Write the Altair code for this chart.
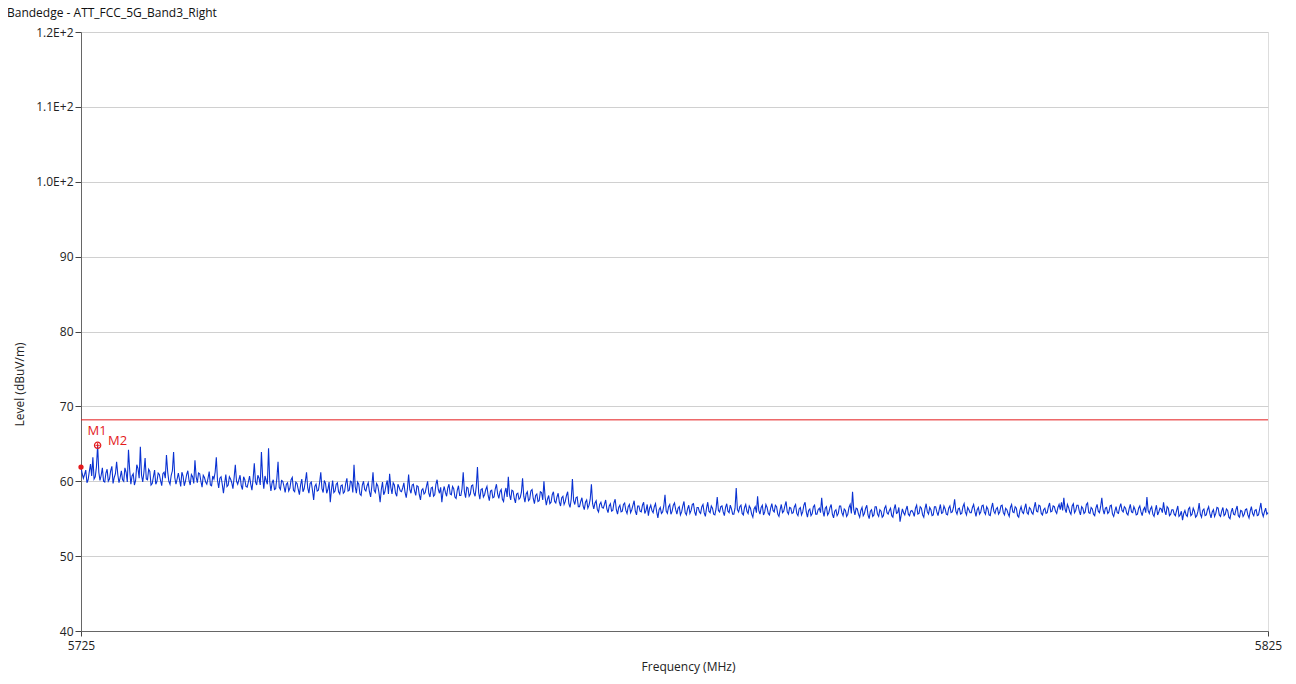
import altair as alt
import numpy as np
import pandas as pd

# ---- data -------------------------------------------------------------
title_text = "Bandedge - ATT_FCC_5G_Band3_Right"
freq_start, freq_stop = 5725, 5825
x_tick_values = [5725, 5825]
y_tick_values = [40, 50, 60, 70, 80, 90, 100, 110, 120]
limit_level = [68.2]

marker_names = ["M1", "M2"]
marker_freqs = [5725.0, 5726.4]
marker_levels = [61.9, 64.8]

# sweep trace (dBuV/m), 0.1 MHz steps (one row per MHz)
trace_levels = [
    61.9, 61.0, 60.4, 60.9, 61.5, 59.8, 60.2, 61.3, 62.3, 60.7,
    63.2, 60.3, 60.6, 61.9, 64.8, 61.2, 60.1, 60.8, 61.8, 60.0,
    59.9, 61.1, 61.6, 60.0, 60.3, 61.4, 62.0, 59.7, 60.5, 61.0,
    62.6, 60.9, 59.8, 60.5, 61.4, 60.2, 60.0, 61.8, 61.2, 59.9,
    64.2, 61.5, 59.6, 60.7, 61.0, 59.5, 60.1, 62.2, 61.7, 60.4,
    64.6, 60.8, 59.9, 61.2, 63.1, 60.3, 60.2, 61.6, 61.3, 59.5,
    59.7, 60.6, 61.5, 59.6, 60.0, 61.1, 60.9, 60.1, 59.4, 61.0,
    61.2, 60.4, 63.5, 61.3, 60.0, 59.6, 60.8, 61.4, 63.9, 60.5,
    59.6, 60.3, 61.1, 60.2, 59.3, 61.2, 60.7, 59.4, 60.0, 60.9,
    61.4, 60.1, 59.5, 60.9, 60.6, 59.7, 62.8, 60.6, 59.8, 61.1,
    61.0, 60.0, 59.2, 60.8, 60.5, 59.9, 59.6, 60.4, 61.3, 59.5,
    59.4, 60.7, 60.3, 61.2, 63.2, 60.1, 59.1, 60.4, 60.6, 59.6,
    58.4, 59.7, 60.9, 59.3, 59.5, 60.6, 60.3, 59.8, 59.0, 60.5,
    62.2, 60.0, 59.6, 60.2, 60.8, 59.4, 58.9, 60.6, 60.2, 59.3,
    59.2, 59.9, 60.7, 59.6, 58.8, 60.3, 62.4, 59.9, 59.5, 60.8,
    60.4, 59.5, 63.9, 60.6, 59.0, 60.7, 60.1, 59.6, 64.4, 60.0,
    58.7, 59.8, 60.2, 58.9, 59.0, 60.4, 62.6, 59.2, 58.9, 60.1,
    60.0, 59.3, 58.5, 59.6, 59.8, 58.7, 59.1, 60.2, 60.5, 58.8,
    58.6, 59.9, 59.7, 58.9, 58.2, 59.5, 60.3, 58.6, 59.0, 60.0,
    61.2, 59.1, 58.4, 59.7, 59.9, 58.8, 57.5, 59.3, 59.6, 58.7,
    58.8, 59.8, 61.2, 59.0, 58.5, 60.1, 59.7, 58.4, 58.9, 59.9,
    57.2, 58.9, 60.1, 58.5, 58.7, 59.6, 59.8, 58.6, 58.3, 59.4,
    59.5, 58.4, 58.6, 59.7, 60.4, 58.7, 58.8, 60.0, 59.9, 58.5,
    62.2, 59.3, 58.4, 59.9, 59.6, 58.3, 58.1, 59.5, 60.0, 58.9,
    58.7, 59.4, 59.8, 58.6, 57.9, 59.3, 61.2, 58.8, 58.5, 59.7,
    59.4, 58.5, 57.2, 58.9, 59.9, 58.2, 58.6, 59.5, 60.1, 58.3,
    61.0, 59.2, 58.3, 59.8, 59.5, 58.4, 58.0, 59.6, 59.2, 58.7,
    58.6, 59.1, 59.8, 58.5, 57.8, 59.0, 60.9, 58.9, 58.4, 59.5,
    59.6, 58.7, 58.1, 59.4, 59.3, 58.2, 57.5, 58.8, 59.0, 58.3,
    58.5, 59.3, 60.0, 58.4, 57.9, 59.1, 59.2, 58.0, 58.2, 59.6,
    60.2, 58.9, 58.4, 59.2, 57.2, 58.6, 59.3, 58.5, 58.0, 59.1,
    59.6, 58.3, 58.2, 59.3, 59.0, 57.9, 57.7, 58.8, 59.4, 58.1,
    58.1, 59.0, 61.2, 58.6, 57.8, 59.2, 59.1, 58.0, 58.3, 59.4,
    59.5, 58.4, 58.0, 59.3, 61.9, 58.5, 57.6, 58.9, 59.0, 57.9,
    58.2, 58.9, 59.3, 58.1, 57.4, 58.7, 58.8, 57.8, 57.9, 59.0,
    59.6, 58.3, 57.7, 58.6, 58.9, 57.6, 57.3, 58.5, 59.1, 57.9,
    60.6, 58.2, 57.5, 58.8, 58.7, 57.7, 57.1, 58.3, 58.4, 57.6,
    57.8, 58.5, 60.4, 58.0, 57.2, 58.3, 58.6, 57.4, 57.6, 58.7,
    58.9, 57.7, 57.0, 58.1, 58.3, 57.3, 57.4, 58.6, 58.5, 57.5,
    60.0, 57.9, 56.8, 57.6, 58.1, 57.0, 57.2, 58.2, 58.6, 57.3,
    57.1, 57.9, 58.4, 57.2, 56.7, 57.8, 58.0, 56.9, 57.3, 58.1,
    58.6, 57.0, 56.5, 57.6, 60.3, 57.4, 56.9, 57.8, 57.9, 56.6,
    56.6, 57.3, 57.8, 56.7, 56.2, 57.2, 57.5, 56.4, 56.8, 57.6,
    59.6, 57.0, 56.3, 57.1, 57.4, 56.2, 55.9, 56.9, 57.2, 56.5,
    56.4, 56.9, 57.5, 56.3, 55.8, 56.7, 57.0, 56.0, 56.1, 57.1,
    57.6, 56.2, 55.6, 56.5, 56.8, 55.9, 56.0, 56.9, 57.1, 56.1,
    55.7, 56.6, 56.9, 55.8, 56.2, 56.8, 57.4, 56.0, 55.5, 56.7,
    56.7, 56.0, 55.9, 56.8, 57.2, 55.7, 56.1, 56.9, 55.4, 56.4,
    56.8, 56.1, 55.8, 56.6, 57.0, 55.9, 55.1, 56.2, 56.5, 55.7,
    55.9, 56.7, 58.2, 56.0, 55.7, 56.6, 56.9, 55.6, 56.0, 56.8,
    57.1, 56.2, 55.6, 56.4, 56.6, 55.5, 55.9, 56.7, 57.3, 55.8,
    55.5, 56.3, 56.8, 55.7, 56.1, 56.9, 57.0, 55.9, 55.4, 56.5,
    56.5, 55.9, 55.7, 56.6, 56.9, 55.8, 55.3, 56.4, 57.2, 56.0,
    55.8, 56.7, 56.4, 55.6, 55.5, 56.3, 57.9, 56.1, 55.9, 56.6,
    56.7, 55.9, 55.4, 56.5, 57.0, 56.0, 55.8, 56.8, 56.3, 55.6,
    55.6, 56.4, 59.1, 56.2, 55.9, 56.6, 56.8, 55.7, 55.5, 56.5,
    56.9, 56.0, 55.7, 56.7, 56.4, 55.6, 55.2, 56.3, 56.6, 55.8,
    58.0, 56.1, 55.6, 56.5, 56.8, 55.5, 55.9, 56.9, 56.5, 55.7,
    55.5, 56.4, 57.0, 56.1, 55.9, 56.8, 56.6, 55.6, 55.3, 56.2,
    56.9, 55.8, 56.0, 56.7, 57.3, 55.9, 55.6, 56.5, 56.4, 55.7,
    55.8, 56.6, 56.9, 55.7, 55.4, 56.3, 56.5, 55.5, 55.9, 56.8,
    57.2, 55.9, 55.2, 56.1, 56.3, 55.4, 55.7, 56.6, 56.8, 55.6,
    55.6, 56.2, 56.4, 55.8, 57.8, 56.0, 55.3, 56.4, 56.6, 55.5,
    55.8, 56.5, 56.9, 55.6, 55.1, 56.0, 56.2, 55.4, 55.7, 56.7,
    56.7, 55.8, 55.4, 56.3, 56.1, 55.3, 55.6, 56.5, 56.9, 55.7,
    58.6, 56.2, 55.5, 56.4, 56.3, 55.6, 55.2, 56.1, 56.5, 55.4,
    55.7, 56.4, 56.8, 55.5, 55.0, 56.0, 56.2, 55.3, 55.5, 56.6,
    56.6, 55.6, 55.3, 56.2, 56.0, 55.2, 55.4, 56.4, 56.7, 55.8,
    55.6, 56.1, 56.4, 55.4, 55.2, 56.3, 56.9, 55.7, 55.8, 56.5,
    54.6, 55.5, 56.3, 55.8, 55.5, 56.2, 56.7, 55.6, 55.4, 56.0,
    56.1, 55.8, 55.3, 56.4, 56.8, 55.6, 55.7, 56.6, 56.4, 55.5,
    55.2, 56.3, 57.0, 55.9, 55.6, 56.5, 56.2, 55.4, 55.5, 56.6,
    56.6, 55.9, 55.4, 56.2, 56.9, 55.7, 55.8, 56.7, 56.3, 55.6,
    55.5, 56.4, 56.7, 55.8, 55.9, 56.5, 57.6, 56.0, 55.6, 56.3,
    56.4, 55.6, 55.7, 56.6, 57.0, 55.9, 55.5, 56.5, 56.2, 55.8,
    55.8, 56.5, 56.9, 56.0, 55.3, 56.2, 56.5, 55.6, 55.9, 56.7,
    56.8, 55.9, 55.6, 56.6, 56.3, 55.5, 55.4, 56.4, 57.1, 56.0,
    55.7, 56.3, 56.5, 55.6, 55.9, 56.7, 56.8, 55.8, 55.5, 56.4,
    56.2, 55.7, 55.3, 56.5, 56.9, 55.9, 55.8, 56.6, 56.4, 55.4,
    55.2, 56.1, 56.6, 55.9, 55.7, 56.4, 57.0, 55.8, 55.6, 56.5,
    56.3, 55.8, 55.6, 56.5, 57.2, 56.0, 55.9, 56.8, 56.7, 55.7,
    55.5, 56.2, 56.4, 55.7, 55.8, 56.6, 57.1, 55.9, 56.0, 56.7,
    56.6, 56.0, 55.7, 56.5, 56.9, 56.2, 57.2, 56.1, 57.8, 56.3,
    55.8, 56.9, 56.5, 55.9, 55.6, 56.7, 57.0, 55.8, 56.1, 56.8,
    56.8, 56.0, 55.5, 56.6, 56.4, 55.7, 55.9, 56.9, 57.1, 55.8,
    55.7, 56.5, 56.3, 55.6, 55.4, 56.4, 56.9, 56.0, 55.8, 56.6,
    57.8, 56.2, 55.6, 56.4, 56.5, 55.7, 55.9, 56.7, 56.8, 55.6,
    55.3, 56.0, 56.6, 55.8, 55.7, 56.5, 57.0, 56.1, 55.9, 56.6,
    56.4, 55.7, 55.5, 56.3, 56.9, 55.9, 55.8, 56.6, 56.2, 55.5,
    55.6, 56.4, 56.7, 55.9, 55.4, 56.2, 56.5, 55.8, 57.9, 56.1,
    55.7, 56.3, 56.6, 55.6, 55.3, 56.1, 56.8, 55.5, 55.9, 56.4,
    56.3, 55.8, 57.2, 56.0, 55.5, 56.6, 56.4, 55.4, 55.6, 56.2,
    56.2, 55.6, 55.4, 56.1, 56.7, 55.3, 55.5, 56.0, 54.8, 55.7,
    56.1, 55.5, 55.3, 56.3, 56.5, 55.4, 55.6, 56.4, 56.0, 55.2,
    55.4, 56.0, 57.1, 55.6, 55.2, 56.1, 56.3, 55.4, 55.5, 56.2,
    56.6, 55.7, 55.1, 55.9, 56.2, 55.3, 55.7, 56.5, 56.4, 55.5,
    55.3, 56.0, 56.5, 55.4, 55.6, 56.3, 56.1, 55.2, 55.0, 55.9,
    56.4, 55.6, 55.5, 56.2, 56.7, 55.4, 55.2, 56.1, 56.0, 55.3,
    55.6, 56.2, 56.3, 55.5, 55.1, 56.0, 56.6, 55.7, 55.4, 56.1,
    56.2, 55.4, 55.5, 56.3, 57.1, 55.8, 55.3, 55.9, 56.4, 55.6,
    55.8,
]
trace_freqs = np.round(np.linspace(freq_start, freq_stop, len(trace_levels)), 2)

# ---- tables -----------------------------------------------------------
trace_df = pd.DataFrame({"freq": trace_freqs, "level": trace_levels})
limit_df = pd.DataFrame({"level": limit_level})
marker_df = pd.DataFrame({"freq": marker_freqs, "level": marker_levels, "name": marker_names})
title_df = pd.DataFrame({"t": [title_text]})

FONT = "Open Sans"
RED = "#e41a1c"
BLUE = "#0a32d2"

x_scale = alt.Scale(domain=[freq_start, freq_stop], nice=False, zero=False)
y_scale = alt.Scale(domain=[40, 120], nice=False, zero=False)

x_axis = alt.Axis(
    values=x_tick_values, format="d", title="Frequency (MHz)", grid=False,
    tickSize=5, tickColor="#444", domainColor="#666", labelFontSize=12,
    labelColor="#222", labelPadding=4, labelFont=FONT, titleFont=FONT,
    titleFontSize=12, titleFontWeight="normal", titleColor="#222",
    titleX=607, titleY=35, titleBaseline="middle", titleAlign="center",
    labelFlush=False, labelOverlap=False,
)
y_axis = alt.Axis(
    values=y_tick_values, title="Level (dBuV/m)", grid=True, gridColor="#d0d0d0",
    tickSize=6, tickColor="#444", domainColor="#666", labelFontSize=12,
    labelColor="#222", labelPadding=2, labelFont=FONT, titleFont=FONT,
    titleFontSize=12, titleFontWeight="normal", titleColor="#222",
    titleAngle=-90, titleX=-62, titleY=352, titleBaseline="middle",
    titleAlign="center",
    labelExpr="datum.value >= 100 ? format(datum.value / 100, '.1f') + 'E+2' : datum.label",
    labelOverlap=False,
)

trace = alt.Chart(trace_df).mark_line(color=BLUE, strokeWidth=1.1).encode(
    x=alt.X("freq:Q", scale=x_scale, axis=x_axis),
    y=alt.Y("level:Q", scale=y_scale, axis=y_axis),
)

limit = alt.Chart(limit_df).mark_rule(color=RED, strokeWidth=1).encode(
    y=alt.Y("level:Q", scale=y_scale),
)

m1_df = marker_df[marker_df["name"] == "M1"]
m2_df = marker_df[marker_df["name"] == "M2"]

m1_pt = alt.Chart(m1_df).mark_point(filled=True, color=RED, size=28, opacity=1).encode(
    x=alt.X("freq:Q", scale=x_scale), y=alt.Y("level:Q", scale=y_scale)
)
m2_ring = alt.Chart(m2_df).mark_point(filled=False, color=RED, size=40, strokeWidth=1.2, opacity=1).encode(
    x=alt.X("freq:Q", scale=x_scale), y=alt.Y("level:Q", scale=y_scale)
)
m2_cross = alt.Chart(m2_df).mark_point(
    shape="M-1,0L1,0M0,-1L0,1", filled=False, color=RED, size=20, strokeWidth=1, opacity=1
).encode(x=alt.X("freq:Q", scale=x_scale), y=alt.Y("level:Q", scale=y_scale))

m1_label = alt.Chart(m1_df).mark_text(
    color=RED, font=FONT, fontSize=13, align="center", baseline="middle", dx=16, dy=-36
).encode(x=alt.X("freq:Q", scale=x_scale), y=alt.Y("level:Q", scale=y_scale), text="name:N")
m2_label = alt.Chart(m2_df).mark_text(
    color=RED, font=FONT, fontSize=13, align="center", baseline="middle", dx=20, dy=-4
).encode(x=alt.X("freq:Q", scale=x_scale), y=alt.Y("level:Q", scale=y_scale), text="name:N")

title = alt.Chart(title_df).mark_text(
    font=FONT, fontSize=12, color="#111", align="left", baseline="top"
).encode(x=alt.value(-74), y=alt.value(-24), text="t:N")

chart = (
    alt.layer(limit, trace, m1_pt, m2_ring, m2_cross, m1_label, m2_label, title)
    .properties(
        width=1187, height=599,
        padding={"left": 73, "top": 24, "right": 20, "bottom": 45},
        autosize=alt.AutoSizeParams(type="none"),
    )
    .configure_view(stroke="#7a7a7a", strokeWidth=1)
    .configure(font=FONT, background="white")
)

chart.save("out.html", embed_options={"renderer": "svg", "actions": False})
